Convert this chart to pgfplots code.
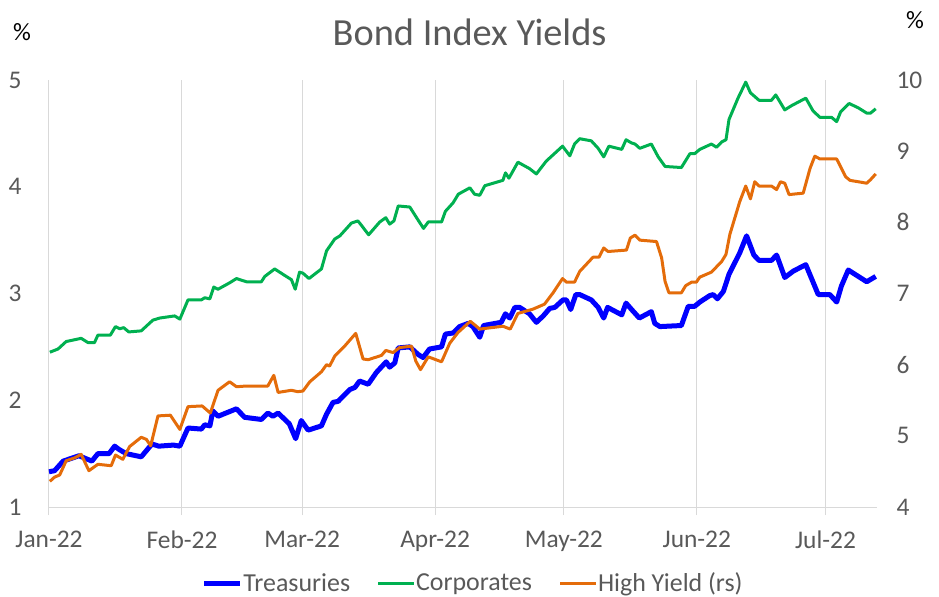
\documentclass[border=0pt]{standalone}
\usepackage{fontspec}
\setmainfont{Carlito}
\usepackage{pgfplots}
\usepackage{pgfplotstable}
\pgfplotsset{compat=1.18}
\definecolor{tser}{HTML}{0000FF}
\definecolor{cser}{HTML}{00B050}
\definecolor{hser}{HTML}{E46C0A}
\definecolor{gridc}{HTML}{D9D9D9}
\definecolor{txt}{HTML}{595959}

\pgfplotstableread{
d v
0 1.33
1.3 1.34
3.3 1.43
7 1.48
10 1.43
11.4 1.50
14 1.50
15.3 1.57
16.3 1.54
18 1.50
21.5 1.47
24 1.59
25.6 1.57
29 1.58
30.5 1.57
32.4 1.74
35.5 1.73
36.3 1.77
37.5 1.76
38.2 1.90
39.4 1.85
43.7 1.92
45.6 1.84
49.5 1.82
51 1.88
52.2 1.85
53.4 1.88
56 1.78
57.5 1.64
58.8 1.81
60.4 1.72
63.5 1.76
64.7 1.87
66.2 1.98
67.4 1.99
70.1 2.10
71.3 2.12
72.4 2.18
74.4 2.15
76.3 2.26
78.6 2.36
79.4 2.31
80.6 2.35
81.4 2.49
84.1 2.50
86 2.43
87.2 2.40
88.7 2.48
91.5 2.50
92.4 2.62
94.2 2.63
95.7 2.69
97.7 2.72
98.8 2.69
100.4 2.59
101.3 2.70
105.4 2.73
106.4 2.81
107.4 2.77
108.6 2.87
109.7 2.87
112 2.81
113.6 2.73
115.2 2.79
116.7 2.86
117.9 2.87
119.8 2.94
120.6 2.94
121.6 2.85
122.8 2.99
123.7 2.99
126.4 2.94
128 2.87
129.3 2.77
130.2 2.87
133.5 2.80
134.5 2.91
135.8 2.85
137.6 2.77
140.4 2.83
141.2 2.72
142.4 2.69
147.4 2.70
149 2.88
150.5 2.88
151.7 2.92
154 2.98
154.8 2.99
155.8 2.95
157.2 3.02
158.5 3.18
161 3.38
162.6 3.54
164.3 3.36
165.5 3.31
168.4 3.31
169.6 3.36
171.5 3.15
173.5 3.21
176.4 3.27
179.3 2.99
182 2.99
183.6 2.92
184.7 3.07
186.3 3.22
190.6 3.11
192.7 3.16
}\treas

\pgfplotstableread{
d v
0.2 2.45
2.1 2.48
4 2.55
7.5 2.58
9.1 2.54
10.6 2.54
11.4 2.61
14.3 2.61
15.5 2.69
16.5 2.67
17.4 2.68
18.6 2.64
21.5 2.65
24.2 2.75
25.8 2.77
29.3 2.79
30.5 2.76
32.4 2.94
35.5 2.94
36.3 2.96
37.5 2.95
38.4 3.06
39.4 3.04
42.1 3.10
43.7 3.14
46 3.11
49.5 3.11
50.3 3.16
52.6 3.23
55.3 3.16
56.5 3.13
57.4 3.04
58.4 3.20
59.2 3.19
60.6 3.14
63.5 3.23
64.7 3.40
66.6 3.51
67.8 3.54
70.5 3.66
72 3.68
72.8 3.64
74.5 3.55
77.1 3.67
78.5 3.71
79.4 3.65
80.4 3.68
81.4 3.82
84.1 3.81
86 3.69
87.3 3.61
88.4 3.67
91.5 3.67
92.4 3.77
94.2 3.85
95.4 3.93
98.1 3.99
99.2 3.93
100.4 3.92
101.6 4.01
105.8 4.06
106.4 4.13
107.2 4.08
109.3 4.23
112 4.17
113.6 4.12
115.9 4.24
119.7 4.38
121.4 4.29
122.5 4.40
123.7 4.45
126.4 4.43
128 4.36
129.3 4.28
130.5 4.38
133.5 4.35
134.5 4.44
135.8 4.41
136.6 4.40
137.7 4.36
140.4 4.40
142 4.28
143.6 4.19
147.4 4.18
149.4 4.31
150.5 4.31
151.7 4.35
154.4 4.40
155.6 4.37
156.8 4.42
157.8 4.44
158.5 4.63
160.6 4.83
162.4 4.98
163.5 4.88
165.5 4.81
168.4 4.81
169.4 4.86
171.5 4.72
173.1 4.76
176.4 4.83
178.1 4.71
179.7 4.65
182.4 4.65
183.6 4.61
184.5 4.70
186.5 4.78
188.6 4.74
190.6 4.69
191.5 4.69
192.7 4.73
}\corp

\pgfplotstableread{
d v
0.2 4.36
1.3 4.42
2.5 4.45
4 4.65
6 4.69
7.5 4.74
9.3 4.51
11.4 4.60
14.5 4.58
15.5 4.73
17.2 4.67
18.8 4.85
21.5 4.98
22.7 4.95
23.7 4.86
25.4 5.28
28.3 5.29
30.5 5.09
32.4 5.41
35.7 5.42
37.6 5.32
39.4 5.64
42.1 5.76
43.7 5.69
46 5.70
51 5.70
52.4 5.85
53.4 5.61
56.5 5.64
58 5.62
59.2 5.63
60.8 5.76
63.5 5.90
64.7 6.00
65.4 5.98
66.6 6.12
68.9 6.26
71.5 6.44
73.2 6.08
74.4 6.07
77.5 6.13
78.5 6.20
80.2 6.17
81.7 6.24
84.5 6.26
85.5 6.05
86.6 5.93
88.4 6.11
91.5 6.04
93.4 6.30
95.3 6.45
98.2 6.61
100.4 6.50
105.8 6.54
107.5 6.50
109.3 6.72
112.8 6.78
115.5 6.85
117.5 7.01
119.7 7.21
120.6 7.16
122.5 7.16
123.7 7.31
126.8 7.51
128.2 7.51
129.3 7.64
130.3 7.59
134.6 7.61
135.5 7.78
136.6 7.82
137.7 7.75
141.6 7.73
142.8 7.50
143.6 7.17
144.5 7.01
147.4 7.01
148.4 7.11
149.8 7.16
150.9 7.16
151.7 7.23
154.4 7.30
156.8 7.45
157.8 7.55
158.7 7.83
161 8.29
162.4 8.51
163.5 8.33
164.5 8.57
165.5 8.51
168.4 8.51
169.6 8.46
170.5 8.57
171.5 8.55
172.5 8.39
175.8 8.41
177.4 8.76
178.5 8.93
179.7 8.89
183.6 8.89
184.7 8.76
185.7 8.64
186.7 8.59
190.6 8.55
191.5 8.60
192.7 8.68
}\hy

\begin{document}
\begin{tikzpicture}
\pgfplotsset{base/.style={
  scale only axis, width=828bp, height=427bp,
  xmin=0, xmax=193, clip=false,
  ticklabel style={font=\fontsize{25.5}{30}\selectfont, text=txt},
  line join=round,
}}
\begin{axis}[base,
  ymin=1, ymax=5, ytick={1,2,3,4,5}, yticklabels={1,2,3,4,5},
  xtick={0,31,59,90,120,151,181},
  xticklabels={Jan-22,Feb-22,Mar-22,Apr-22,May-22,Jun-22,Jul-22},
  xmajorgrids, grid style={gridc, line width=1bp},
  axis x line*=bottom, axis y line*=left,
  x axis line style={gridc, line width=1bp, -},
  y axis line style={draw=none},
  tick align=outside, major tick length=8bp,
  xtick style={gridc, line width=1bp},
  ytick style={draw=none},
  yticklabel style={xshift=-16bp},
  xticklabel style={yshift=-12bp},
  legend columns=3,
  legend style={at={(0.5115,-0.178)}, anchor=center, draw=none, fill=none,
    font=\fontsize{26}{30}\selectfont, text=txt, inner sep=0pt,
    nodes={inner xsep=0.5bp},
    /tikz/every even column/.append style={column sep=26bp}},
  legend image code/.code={\draw[#1] (0bp,0bp) -- (36bp,0bp);},
]
\addplot[tser, line width=5bp] table[x=d,y=v] {\treas};
\addlegendentry{Treasuries}
\addplot[cser, line width=3bp] table[x=d,y=v] {\corp};
\addlegendentry{Corporates}
\addlegendimage{hser, line width=3bp}
\addlegendentry{High Yield (rs)}
\coordinate (SW) at (rel axis cs:0,0);
\node[font=\fontsize{38.5}{44}\selectfont, text=txt] at (rel axis cs:0.508,1) [yshift=48bp] {Bond Index Yields};
\node[font=\fontsize{25}{30}\selectfont, text=black] at (rel axis cs:0,1) [xshift=-27bp, yshift=48bp] {\%};
\end{axis}
\begin{axis}[base,
  ymin=4, ymax=10, ytick={4,5,6,7,8,9,10}, yticklabels={4,5,6,7,8,9,10},
  axis y line*=right, axis x line=none,
  y axis line style={draw=none}, ytick style={draw=none},
  yticklabel style={xshift=16bp},
]
\addplot[hser, line width=3bp] table[x=d,y=v] {\hy};
\node[font=\fontsize{25}{30}\selectfont, text=black] at (rel axis cs:1,1) [xshift=38bp, yshift=60bp] {\%};
\end{axis}
\pgfresetboundingbox
\path[use as bounding box] ([shift={(-49bp,-90bp)}]SW) rectangle ([shift={(890bp,507bp)}]SW);
\end{tikzpicture}
\end{document}
